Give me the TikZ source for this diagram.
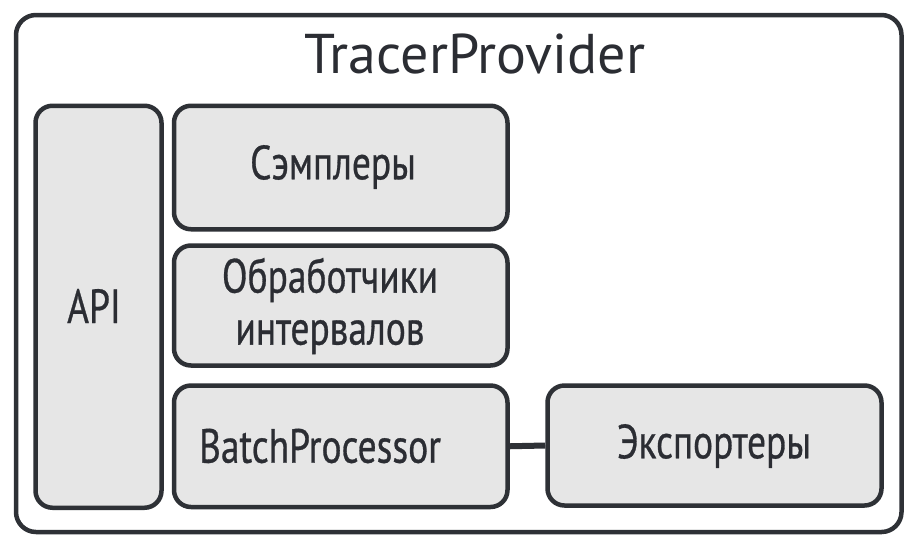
\documentclass[tikz,border=0pt]{standalone}
\usepackage{fontspec}
\setmainfont{PT Sans}
\newfontfamily\condfont[FakeStretch=0.78,FakeBold=0.6]{PT Sans}
\definecolor{stroke}{HTML}{2E3136}
\definecolor{boxfill}{HTML}{E6E6E6}
\definecolor{ink}{HTML}{2B2D33}
\begin{document}
\begin{tikzpicture}[x=1pt,y=-1pt,
  box/.style={draw=stroke, line width=4.5pt, fill=boxfill, rounded corners=17pt,
    rectangle, inner sep=0pt},
  lbl/.style={text=ink, font=\condfont\fontsize{48}{52}\selectfont, align=center, inner sep=0pt},
  outerbox/.style={draw=stroke, line width=4.5pt, rounded corners=20pt, fill=white}]
\useasboundingbox (0,0) rectangle (915,550);
\draw[outerbox] (16,15) rectangle (901.5,532);
\node[text=ink, font=\fontsize{56}{60}\selectfont, anchor=base, inner sep=0pt] (title) at (475,73) {TracerProvider};
\node[box, minimum width=126pt, minimum height=402pt] (api) at (98.5,306.75) {};
\node[box, minimum width=333.5pt, minimum height=123.5pt] (smp) at (340.75,167.5) {};
\node[box, minimum width=333.5pt, minimum height=120pt] (proc) at (340.75,305.5) {};
\node[box, minimum width=333.5pt, minimum height=121.5pt] (bp) at (340.75,446.25) {};
\node[box, minimum width=334pt, minimum height=120pt] (exp) at (714.5,445.5) {};
\draw[draw=stroke, line width=6pt] (bp.east) -- (exp.west);
\node[lbl] (apit) at (94,306) {API};
\node[lbl] (smpt) at (333,167) {Сэмплеры};
\node[lbl] (proct) at (330,306) {Обработчики\\интервалов};
\node[lbl] (bpt) at (320,446) {BatchProcessor};
\node[lbl] (expt) at (714,446) {Экспортеры};
\end{tikzpicture}
\end{document}
